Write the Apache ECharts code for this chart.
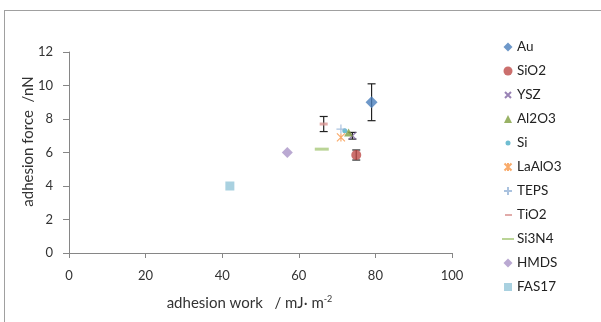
<!DOCTYPE html>
<html>
<head>
<meta charset="utf-8">
<script src="https://cdn.jsdelivr.net/npm/echarts@6/dist/echarts.min.js"></script>
<style>
  html, body { margin: 0; padding: 0; background: #fff; }
  #frame { position: absolute; left: 4px; top: 10px; width: 597px; height: 312px;
           border-top: 1px solid #a0a0a0; border-left: 1px solid #a0a0a0; }
  #chart { position: absolute; left: 0; top: 0; width: 601px; height: 322px; }
</style>
</head>
<body>
<div id="frame"></div>
<div id="chart"></div>
<script>
// materials
const materiales = ["Au", "SiO2", "YSZ", "Al2O3", "Si", "LaAlO3", "TEPS", "TiO2", "Si3N4", "HMDS", "FAS17"];
const trabajo = [79, 75, 74, 73, 72, 71, 71, 66.5, 66, 57, 42];   // adhesion work mJ/m2
const fuerza = [9.0, 5.85, 7.0, 7.2, 7.3, 6.9, 7.4, 7.7, 6.2, 6.0, 4.0]; // adhesion force nN
const errores = [1.1, 0.3, 0.2, 0, 0, 0, 0, 0.45, 0, 0, 0];

const colores = ["#4a7ebb", "#be4b48", "#8064a2", "#7f9f3f", "#4bacc6", "#f79646",
  "#95b3d7", "#d99694", "#a9c97c", "#a994c7", "#93c5d8"];

const simbolos = [
  ["diamond", [12, 12]],
  ["circle", [10, 10]],
  ["path://M0,0L10,10M10,0L0,10", [7, 7]],
  ["triangle", [9, 8]],
  ["circle", [5, 5]],
  ["path://M0,0L10,10M10,0L0,10M5,0L5,10", [8, 8]],
  ["path://M5,0L5,10M0,5L10,5", [9, 9]],
  ["rect", [8, 3]],
  ["rect", [14, 3]],
  ["diamond", [11, 11]],
  ["rect", [9, 9]],
];

// legend icons drawn in a 14x12 box (the two first moves fix the box)
const caja = "M0,0M14,12";
const iconos = [
  "M7,1.5L11.5,6L7,10.5L2.5,6Z",
  "M2.5,6A4.5,4.5 0 1 1 11.5,6A4.5,4.5 0 1 1 2.5,6Z",
  "M4,3L10,9M10,3L4,9",
  "M7,2L11,10L3,10Z",
  "M4.5,6A2.5,2.5 0 1 1 9.5,6A2.5,2.5 0 1 1 4.5,6Z",
  "M3.5,2.5L10.5,9.5M10.5,2.5L3.5,9.5M7,2L7,10",
  "M7,2L7,10M3,6L11,6",
  "M4,5L11,5L11,7L4,7Z",
  "M1,5L13,5L13,7L1,7Z",
  "M7,1.5L11.5,6L7,10.5L2.5,6Z",
  "M3,2L11,2L11,10L3,10Z",
];

const fuente = "Lato";

const series = materiales.map((m, i) => {
  const trazo = simbolos[i][0].startsWith("path://");
  return {
    name: m,
    type: "scatter",
    data: [[trabajo[i], fuerza[i]]],
    symbol: simbolos[i][0],
    symbolSize: simbolos[i][1],
    z: 3,
    itemStyle: trazo
      ? { color: colores[i], borderColor: colores[i], borderWidth: 1.2 }
      : { color: colores[i] },
  };
});

// error bars
const barras = [];
materiales.forEach((m, i) => {
  if (errores[i] > 0) barras.push([trabajo[i], fuerza[i] - errores[i], fuerza[i] + errores[i]]);
});

series.push({
  name: "error",
  type: "custom",
  z: 2,
  data: barras,
  renderItem: (params, api) => {
    const bajo = api.coord([api.value(0), api.value(1)]);
    const alto = api.coord([api.value(0), api.value(2)]);
    const cap = 4;
    const estilo = { stroke: "#222", lineWidth: 1.2 };
    return {
      type: "group",
      children: [
        { type: "line", shape: { x1: bajo[0], y1: bajo[1], x2: alto[0], y2: alto[1] }, style: estilo },
        { type: "line", shape: { x1: bajo[0] - cap, y1: bajo[1], x2: bajo[0] + cap, y2: bajo[1] }, style: estilo },
        { type: "line", shape: { x1: alto[0] - cap, y1: alto[1], x2: alto[0] + cap, y2: alto[1] }, style: estilo },
      ],
    };
  },
});

const chart = echarts.init(document.getElementById("chart"), null, { renderer: "canvas" });
chart.setOption({
  backgroundColor: "transparent",
  animation: false,
  textStyle: { fontFamily: fuente },
  grid: { left: 69, right: 149, top: 52, bottom: 69 },
  legend: {
    orient: "vertical",
    left: 495,
    top: 35,
    height: 285,
    itemGap: 10,
    itemWidth: 14,
    itemHeight: 12,
    data: materiales.map((m, i) => ({ name: m, icon: "path://" + caja + iconos[i] })),
    textStyle: { fontFamily: fuente, fontSize: 13.5, lineHeight: 14, color: "#222", padding: [0, 0, 0, -3] },
  },
  xAxis: {
    type: "value",
    min: 0,
    max: 100,
    interval: 20,
    splitLine: { show: false },
    axisLine: { onZero: false, lineStyle: { color: "#868686" } },
    axisTick: { lineStyle: { color: "#868686" }, length: 5 },
    axisLabel: { color: "#333", fontSize: 13, margin: 16, fontFamily: fuente },
    name: "{a|adhesion work   / mJ· m}{s|-2}",
    nameLocation: "middle",
    nameGap: 42,
    nameTextStyle: {
      padding: [0, 22, 0, 0],
      rich: {
        a: { fontSize: 15, color: "#333", fontFamily: fuente },
        s: { fontSize: 9, color: "#333", fontFamily: fuente, verticalAlign: "top", padding: [0, 0, 8, 0] },
      },
    },
  },
  yAxis: {
    type: "value",
    min: 0,
    max: 12,
    interval: 2,
    splitLine: { show: false },
    axisLine: { show: true, lineStyle: { color: "#868686" } },
    axisTick: { show: true, lineStyle: { color: "#868686" }, length: 6 },
    axisLabel: { color: "#333", fontSize: 13, margin: 16, fontFamily: fuente },
    name: "adhesion force  /nN",
    nameLocation: "middle",
    nameMoveOverlap: false,
    nameGap: 33,
    nameTextStyle: { fontSize: 15, color: "#333", fontFamily: fuente, padding: [0, 0, 0, 22] },
  },
  series: series,
});
</script>
</body>
</html>
